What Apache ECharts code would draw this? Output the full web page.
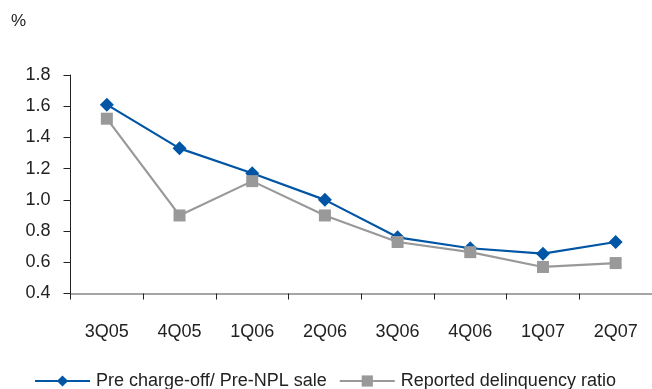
<!DOCTYPE html>
<html><head><meta charset="utf-8">
<script src="https://cdn.jsdelivr.net/npm/echarts@6/dist/echarts.min.js"></script>
<style>html,body{margin:0;padding:0;background:#fff}#c{width:652px;height:389px}</style>
</head><body><div id="c"></div>
<script>
var categories = ['3Q05','4Q05','1Q06','2Q06','3Q06','4Q06','1Q07','2Q07'];
var preChargeOff = [1.61, 1.33, 1.17, 1.00, 0.76, 0.69, 0.655, 0.73];
var reportedDelinquency = [1.52, 0.90, 1.12, 0.90, 0.73, 0.665, 0.57, 0.595];
var seriesNames = ['Pre charge-off/ Pre-NPL sale', 'Reported delinquency ratio'];
var yTicks = [0.4, 1.8, 0.2];

var font = "'Liberation Sans', Arial, sans-serif";
var chart = echarts.init(document.getElementById('c'));
chart.setOption({
  animation: false,
  textStyle: {fontFamily: font},
  grid: {left: 70.5, top: 75, width: 584, height: 218.5, containLabel: false},
  graphic: [{type: 'text', left: 11, top: 13, style: {text: '%', font: '17px ' + font, fill: '#222'}}],
  legend: {
    top: 372, left: 34, padding: 0, itemGap: 12, itemWidth: 55, itemHeight: 14,
    textStyle: {fontSize: 18, color: '#222', fontFamily: font, padding: [0, 0, 0, 1]},
    data: seriesNames
  },
  xAxis: {
    type: 'category', data: categories, boundaryGap: true,
    axisLine: {lineStyle: {color: '#888', width: 1.5}},
    axisTick: {show: true, length: 6, lineStyle: {color: '#222'}},
    axisLabel: {margin: 30, fontSize: 18, color: '#222', fontFamily: font}
  },
  yAxis: {
    type: 'value', min: yTicks[0], max: yTicks[1], interval: yTicks[2],
    splitLine: {show: false},
    axisLine: {show: true, lineStyle: {color: '#222'}},
    axisTick: {show: true, length: 7, lineStyle: {color: '#222'}},
    axisLabel: {margin: 20, fontSize: 18, color: '#222', fontFamily: font,
      formatter: function(v){return v.toFixed(1);}}
  },
  series: [
    {name: seriesNames[0], type: 'line', data: preChargeOff, symbol: 'diamond', symbolSize: 14,
     lineStyle: {color: '#0055A4', width: 2.2}, itemStyle: {color: '#0055A4'}},
    {name: seriesNames[1], type: 'line', data: reportedDelinquency, symbol: 'rect', symbolSize: 12,
     lineStyle: {color: '#999999', width: 2.2}, itemStyle: {color: '#999999'}}
  ]
});
</script></body></html>
